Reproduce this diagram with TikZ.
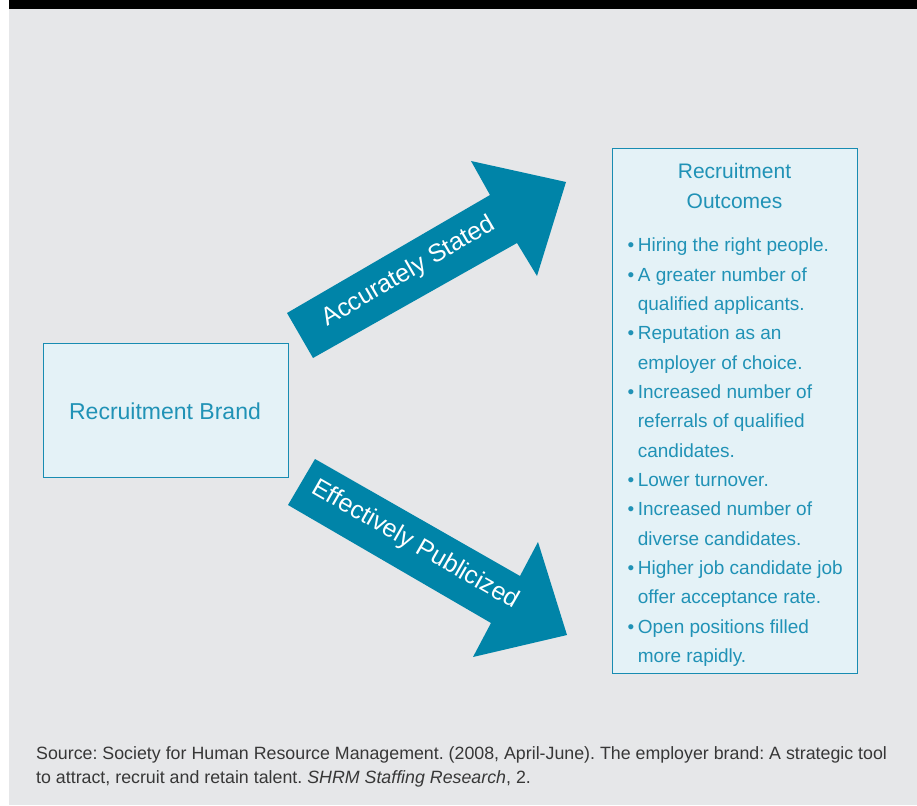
\documentclass[tikz,border=0pt]{standalone}
\usepackage{fontspec}
\setmainfont{Liberation Sans}
\frenchspacing
\definecolor{bgc}{RGB}{230,231,233}
\definecolor{arrowc}{RGB}{0,132,168}
\definecolor{boxtext}{RGB}{32,146,182}
\definecolor{boxline}{RGB}{24,140,178}
\definecolor{boxfill}{RGB}{228,242,247}
\definecolor{srcc}{RGB}{55,55,55}
\begin{document}
\begin{tikzpicture}[x=1pt,y=-1pt,
  panel/.style={draw=boxline, line width=1.3pt, fill=boxfill},
  arrowshape/.style={fill=arrowc, draw=none},
  arrowtext/.style={text=white, font=\fontsize{25}{28}\selectfont, inner sep=0pt},
  boxlabel/.style={text=boxtext, inner sep=0pt}]
\useasboundingbox (0,0) rectangle (917,805);
\fill[white] (0,0) rectangle (917,805);
\fill[bgc] (9,0) rectangle (917,805);
\fill[black] (9,0) rectangle (917,9);
% boxes
\node[panel, minimum width=245pt, minimum height=134pt, anchor=north west, inner sep=0pt] (brand) at (43,343) {};
\node[boxlabel, font=\fontsize{23}{26}\selectfont] (brandtxt) at (165,411) {Recruitment Brand};
\node[panel, minimum width=245pt, minimum height=525pt, anchor=north west, inner sep=0pt] (outc) at (612,148) {};
\node[boxlabel, font=\fontsize{21}{30}\selectfont, align=center, anchor=north] (outtitle) at (734.5,163) {Recruitment\\Outcomes};
\node[boxlabel, anchor=north west, font=\fontsize{19}{29.35}\selectfont] (list) at (627.5,231) {%
\begin{tabular}{@{}l@{\hspace{3.5pt}}l@{}}
\textbullet & Hiring the right people.\\
\textbullet & A greater number of\\
 & qualified applicants.\\
\textbullet & Reputation as an\\
 & employer of choice.\\
\textbullet & Increased number of\\
 & referrals of qualified\\
 & candidates.\\
\textbullet & Lower turnover.\\
\textbullet & Increased number of\\
 & diverse candidates.\\
\textbullet & Higher job candidate job\\
 & offer acceptance rate.\\
\textbullet & Open positions filled\\
 & more rapidly.
\end{tabular}};
% arrows
\coordinate (a1) at (287,313);
\coordinate (a2) at (490,195);
\coordinate (a3) at (471,161);
\coordinate (a4) at (566,182);
\coordinate (a5) at (537,276);
\coordinate (a6) at (517,243);
\coordinate (a7) at (313,358);
\fill[arrowshape] (a1) -- (a2) -- (a3) -- (a4) -- (a5) -- (a6) -- (a7) -- cycle;
\node[arrowtext, rotate=30.2] (acc) at (409,272) {Accurately Stated};
\coordinate (b1) at (315,459);
\coordinate (b2) at (520,576);
\coordinate (b3) at (538,542);
\coordinate (b4) at (567,635);
\coordinate (b5) at (473,657);
\coordinate (b6) at (491,623);
\coordinate (b7) at (288,505);
\fill[arrowshape] (b1) -- (b2) -- (b3) -- (b4) -- (b5) -- (b6) -- (b7) -- cycle;
\node[arrowtext, rotate=-29.8] (eff) at (415,545) {Effectively Publicized};
% source
\node[anchor=base west, text=srcc, font=\fontsize{17.8}{24}\selectfont, inner sep=0pt, align=left] (src) at (36,783) {Source: Society for Human Resource Management. (2008, April-June). The employer brand: A strategic tool\\to attract, recruit and retain talent. \textit{SHRM Staffing Research}, 2.};
\end{tikzpicture}
\end{document}
